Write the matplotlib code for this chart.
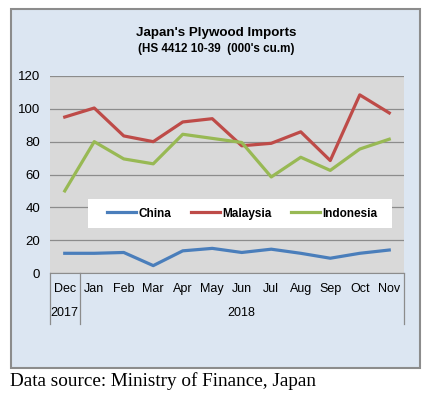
import matplotlib
matplotlib.use('Agg')
import matplotlib.pyplot as plt
from matplotlib.patches import Rectangle
from matplotlib.lines import Line2D
import matplotlib.transforms as mtransforms

months = ['Dec', 'Jan', 'Feb', 'Mar', 'Apr', 'May', 'Jun', 'Jul', 'Aug', 'Sep', 'Oct', 'Nov']
years = ['2017', '2018']
china = [12, 12, 12.5, 4.5, 13.5, 15, 12.5, 14.5, 12, 9, 12, 14]
malaysia = [95, 100.5, 83.5, 80, 92, 94, 77.5, 79, 86, 68.5, 108.5, 97.5]
indonesia = [50, 80, 69.5, 66.5, 84.5, 82, 79.5, 58.5, 70.5, 62.5, 75.5, 81.5]

W, H = 433, 394
fig = plt.figure(figsize=(W / 100, H / 100), dpi=100)
fig.patch.set_facecolor('white')
plt.rcParams['font.family'] = ['Liberation Sans', 'DejaVu Sans']

# outer light blue panel
fig.patches.append(Rectangle((11 / W, 1 - 368 / H), 409 / W, 359 / H,
                             transform=fig.transFigure, facecolor='#dce6f2',
                             edgecolor='#8c8c8c', linewidth=1.5, zorder=-5))

fig.text(216 / W, 1 - 33 / H, "Japan's Plywood Imports", ha='center', va='center',
         fontsize=9.6, fontweight='bold')
fig.text(216 / W, 1 - 49 / H, "(HS 4412 10-39  (000's cu.m)", ha='center', va='center',
         fontsize=8.4, fontweight='bold')
fig.text(10 / W, 1 - 381 / H, 'Data source: Ministry of Finance, Japan', ha='left', va='center',
         fontsize=13.8, family=['Liberation Serif', 'DejaVu Serif'])

ax = fig.add_axes([50 / W, 1 - 273 / H, 354 / W, 197 / H])
ax.set_zorder(2)
ax.set_facecolor('#d9d9d9')
x = list(range(len(months)))
ax.plot(x, china, color='#4a7ebb', lw=2.3, label='China', zorder=3)
ax.plot(x, malaysia, color='#be4b48', lw=2.3, label='Malaysia', zorder=3)
ax.plot(x, indonesia, color='#98b954', lw=2.3, label='Indonesia', zorder=3)

ax.set_xlim(-0.5, 11.5)
ax.set_ylim(0, 120)
ax.set_yticks(range(0, 121, 20))
ax.yaxis.grid(True, color='#8c8c8c', lw=0.9)
ax.set_axisbelow(True)
ax.set_xticks(x)
ax.set_xticklabels(months, fontsize=9)
ax.tick_params(axis='x', length=0, pad=7)
ax.tick_params(axis='y', length=0, pad=7, labelsize=9.5)
for s in ['top', 'right', 'left']:
    ax.spines[s].set_visible(False)
ax.spines['bottom'].set_color('#8c8c8c')

# second level category labels
trans = mtransforms.blended_transform_factory(ax.transData, ax.transAxes)
ax.text(0, -0.205, years[0], transform=trans, ha='center', va='center', fontsize=9)
ax.text(6, -0.205, years[1], transform=trans, ha='center', va='center', fontsize=9)
for xv in [-0.5, 0.5, 11.5]:
    ax.add_line(Line2D([xv, xv], [0, -0.26], transform=trans, color='#8c8c8c',
                       lw=0.9, clip_on=False))

# legend with its own white box
ax.add_patch(Rectangle((38 / 354, 1 - 152 / 197), 304 / 354, 29 / 197,
                       transform=ax.transAxes, facecolor='white', edgecolor='none', zorder=4))
leg = ax.legend(loc='center', bbox_to_anchor=(192.5 / 354, 0.302), ncol=3, frameon=False,
                handlelength=2.45, handletextpad=0.2, columnspacing=1.65, borderpad=0,
                prop={'weight': 'bold', 'size': 8.5})
leg.set_zorder(5)

fig.savefig('out.png', dpi=100)
